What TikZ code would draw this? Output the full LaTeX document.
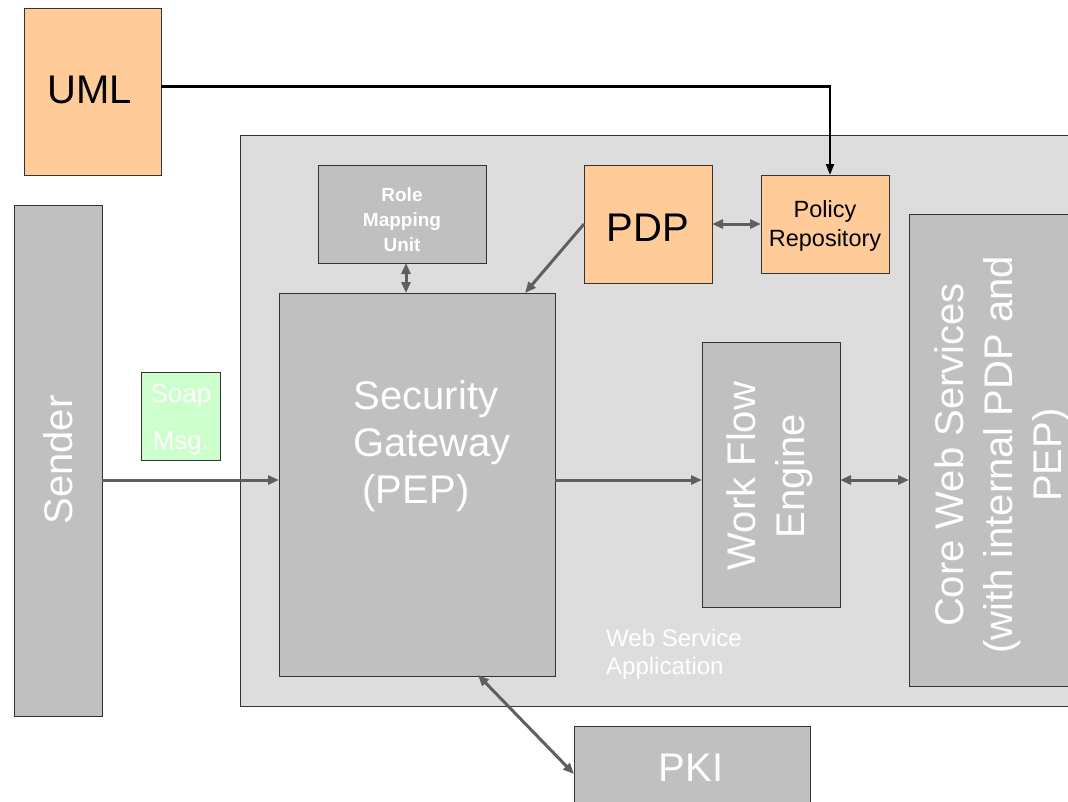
\documentclass[tikz,border=0pt]{standalone}
\usepackage{fontspec}
\setmainfont{Liberation Sans}
\usetikzlibrary{arrows.meta}
\definecolor{appgray}{HTML}{DDDDDD}
\definecolor{boxgray}{HTML}{C0C0C0}
\definecolor{peach}{HTML}{FFCC99}
\definecolor{mint}{HTML}{CCFFCC}
\definecolor{linkgray}{HTML}{5F5F5F}
\definecolor{edgecol}{HTML}{333333}
\begin{document}
\begin{tikzpicture}[x=1pt,y=-1pt,
  box/.style={draw=edgecol, line width=1pt, inner sep=0pt, outer sep=0pt, align=center},
  graybox/.style={box, fill=boxgray, text=white},
  peachbox/.style={box, fill=peach, text=black},
  label/.style={inner sep=0pt, align=center, text=white},
  biglabel/.style={label, font=\fontsize{40}{49}\selectfont},
  link/.style={draw=linkgray, line width=3pt, -{Triangle[length=11pt,width=9pt]}},
  dlink/.style={draw=linkgray, line width=3pt, {Triangle[length=11pt,width=9pt]}-{Triangle[length=11pt,width=9pt]}},
  blacklink/.style={draw=black, line width=2.2pt, -{Triangle[length=11pt,width=8pt]}}
]
\useasboundingbox (0,0) rectangle (1068,801);
\clip (0,0) rectangle (1068,801);
\fill[white] (0,0) rectangle (1068,801);

% web service application container
\node[box, fill=appgray, minimum width=860pt, minimum height=571pt] (app) at (670,420.5) {};
\node[label, anchor=west, align=left, font=\fontsize{24}{28}\selectfont] (apptext) at (606,654) {Web Service\\Application};

% outer actors
\node[peachbox, minimum width=137pt, minimum height=167pt] (uml) at (92.5,91.5) {};
\node[inner sep=0pt, font=\fontsize{40}{47}\selectfont] (umltext) at (90,90) {UML};

\node[graybox, minimum width=88pt, minimum height=511pt] (sender) at (58,460.5) {};
\node[biglabel, rotate=90] (sendertext) at (58,460) {Sender};

\node[box, fill=mint, minimum width=79pt, minimum height=88pt] (soap) at (180.5,416) {};
\node[label, font=\fontsize{26}{47}\selectfont] (soaptext) at (181,420) {Soap\\Msg.};

% components inside the application
\node[graybox, minimum width=168pt, minimum height=98pt] (role) at (402,214) {};
\node[label, font=\bfseries\fontsize{19}{25}\selectfont] (roletext) at (402,220) {Role\\Mapping\\Unit};

\node[peachbox, minimum width=128pt, minimum height=118pt] (pdp) at (648,224) {};
\node[inner sep=0pt, font=\fontsize{40}{47}\selectfont] (pdptext) at (648,228) {PDP};

\node[peachbox, minimum width=128pt, minimum height=98pt] (repo) at (825,224) {};
\node[inner sep=0pt, align=center, font=\fontsize{23.5}{29}\selectfont] (repotext) at (825,226) {Policy\\Repository};

\node[graybox, minimum width=276pt, minimum height=383pt] (sg) at (417,484.5) {};
\node[biglabel, font=\fontsize{40}{47}\selectfont] (sgtext) at (426,446) {Security\\\hspace*{12pt}Gateway\\(PEP)\hspace*{20pt}};

\node[graybox, minimum width=138pt, minimum height=265pt] (wf) at (771,474.5) {};
\node[biglabel, rotate=90] (wftext) at (770,476) {Work Flow\\Engine};

\node[graybox, minimum width=182pt, minimum height=472pt] (core) at (1000,450) {};
\node[biglabel, rotate=90] (coretext) at (1002,455) {Core Web Services\\(with internal PDP and\\PEP)};

\node[graybox, minimum width=236pt, minimum height=90pt] (pki) at (692,771) {};
\node[biglabel] (pkitext) at (691,768) {PKI};

% connectors
\draw[blacklink] ([yshift=5pt]uml.east) -| ([xshift=5pt]repo.north);
\draw[link] (sender.east |- 0,480) -- (sg.west |- 0,480);
\draw[link] (sg.east |- 0,480) -- (wf.west |- 0,480);
\draw[dlink] (wf.east |- 0,480) -- (core.west |- 0,480);
\draw[dlink] ([xshift=4pt]role.south) -- ([xshift=4pt]role.south |- sg.north);
\draw[link] (pdp.west) -- ([xshift=-30pt]sg.north east);
\draw[dlink] (pdp.east) -- (repo.west);
\draw[dlink] ([xshift=61pt,yshift=1pt]sg.south) -- ([yshift=-3pt]pki.west);
\end{tikzpicture}
\end{document}
